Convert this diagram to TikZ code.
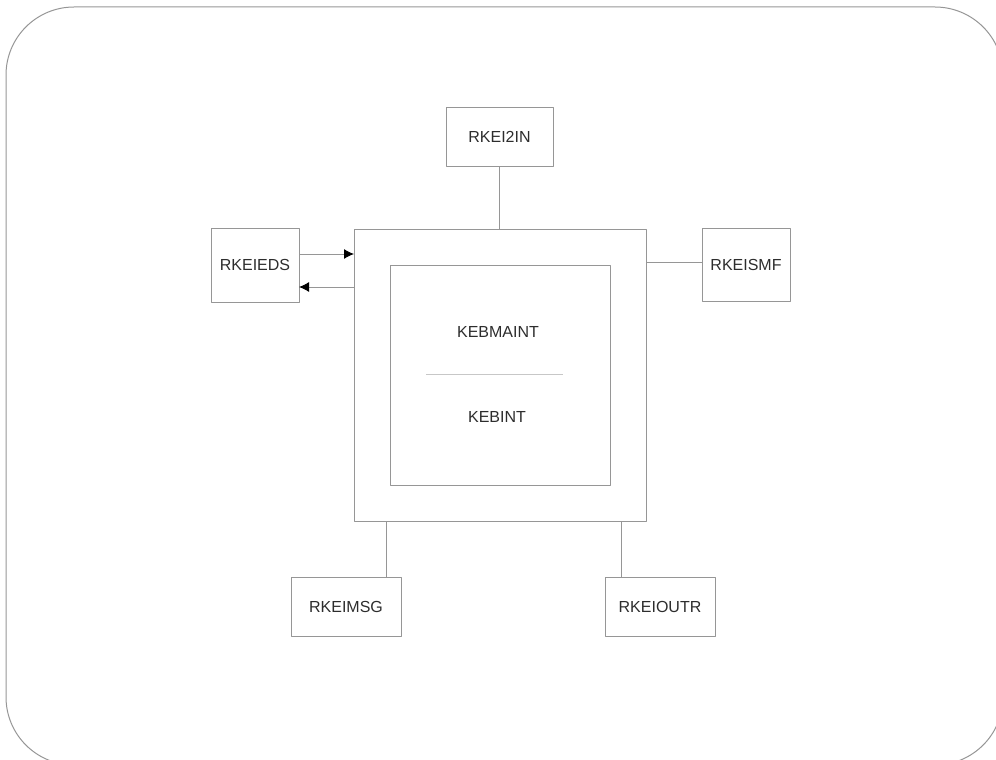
\documentclass[tikz,border=0pt]{standalone}
\usepackage{fontspec}
\setmainfont{Liberation Sans}
\usetikzlibrary{arrows.meta,positioning}
\definecolor{boxline}{RGB}{150,150,150}
\definecolor{textgray}{RGB}{45,45,45}
\tikzset{
  modbox/.style={draw=boxline, line width=1pt, minimum width=#1, minimum height=59pt, inner sep=0pt, text=textgray},
  modbox/.default=88pt,
  link/.style={draw=boxline, line width=1pt},
  arr/.style={link, -{Latex[length=10pt,width=10pt,color=black]}, shorten >=-0.5pt}
}
\begin{document}
\begin{tikzpicture}[x=1pt, y=-1pt, font=\fontsize{16}{19}\selectfont, line join=round]
		\useasboundingbox (0,0) rectangle (996,760);
		% frame
		\begin{scope}
		\clip (0,0) rectangle (996,760);
		\draw[boxline, line width=1pt, rounded corners=68pt] (6,7) rectangle (1003,765);
		\end{scope}
		% main module
		\node[modbox, minimum width=292pt, minimum height=292pt] (main) at (500,375) {};
		\node[draw=boxline, line width=1pt, minimum width=220pt, minimum height=220pt, inner sep=0pt] (inner) at (500,375) {};
		\node[text=textgray] (maint) at (498,332) {KEBMAINT};
		\node[text=textgray] (kebint) at (497,417) {KEBINT};
		\draw[draw=black!22, line width=1pt] (426,374.5) -- (563,374.5);
		% called modules
		\node[modbox=107pt] (i2in) at (499.5,136.5) {RKEI2IN};
		\node[modbox, minimum height=74pt] (eds) at (255,265) {RKEIEDS};
		\node[modbox, minimum height=73pt] (smf) at (746,264.5) {RKEISMF};
		\node[modbox=110pt] (msg) at (346,606.5) {RKEIMSG};
		\node[modbox=110pt] (outr) at (660,606.5) {RKEIOUTR};
		% links
		\draw[link] (i2in.south) -- (i2in.south |- main.north);
		\draw[arr] ([yshift=11pt]eds.east) -- ([yshift=11pt]eds.east -| main.west);
		\draw[arr] ([yshift=-22pt]eds.east -| main.west) -- ([yshift=-22pt]eds.east);
		\draw[link] ([yshift=2.5pt]smf.west) -- ([yshift=2.5pt]smf.west -| main.east);
		\draw[link] ([xshift=-114pt]main.south) -- ([xshift=-114pt]main.south |- msg.north);
		\draw[link] ([xshift=121pt]main.south) -- ([xshift=121pt]main.south |- outr.north);
\end{tikzpicture}
\end{document}
